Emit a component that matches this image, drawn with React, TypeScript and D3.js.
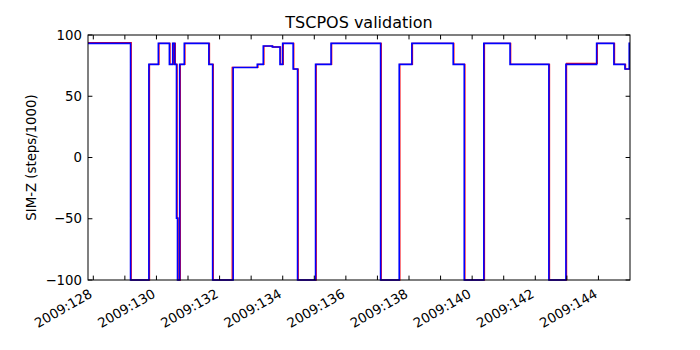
import React from "react";
import * as d3 from "d3";

const W = 700;
const H = 350;
const M = { left: 88, right: 630, top: 35, bottom: 280 };

const xDomain: [number, number] = [127.832, 145.0];
const yDomain: [number, number] = [-100, 100];
const yTicks = [-100, -50, 0, 50, 100];
const xTickDays = d3.range(128, 145);
const xLabelDays = [128, 130, 132, 134, 136, 138, 140, 142, 144];
const xLabelYear = "2009";

// step-after series: [day of year, SIM-Z steps/1000]
const blueTimes = [127.832, 129.18, 129.76, 130.06, 130.41, 130.515, 130.578, 130.635, 130.667, 130.736, 130.882, 131.66, 131.78, 132.43, 133.194, 133.384, 133.669, 133.913, 133.998, 134.33, 134.47, 135.04, 135.53, 137.1, 137.69, 138.09, 139.4, 139.75, 140.37, 141.2, 142.43, 142.97, 143.943, 144.49, 144.839, 144.975, 145.0];
const blueValues = [93.2, -100, 76, 93.2, 76, 93.2, 76, -49.5, -100, 76, 93.2, 76, -100, 73.5, 76, 91, 90.2, 76, 93.2, 72.2, -100, 76, 93.2, -100, 76, 93.2, 76, -100, 93.2, 76, -100, 76, 93.2, 76, 72.2, 93.2, 93.2];

const redTimes = [127.832, 129.2, 129.78, 130.08, 130.43, 130.535, 130.598, 130.655, 130.687, 130.756, 130.902, 131.68, 131.8, 132.4, 133.214, 133.404, 133.689, 133.933, 134.018, 134.35, 134.49, 135.06, 135.55, 137.12, 137.71, 138.11, 139.42, 139.77, 140.39, 141.22, 142.45, 142.99, 143.963, 144.51, 144.859, 144.99, 145.0];
const redValues = [93.8, -100, 76, 93.2, 76, 93.2, 76, -49.5, -100, 76, 93.2, 76, -100, 73.5, 76, 91, 90.2, 76, 93.2, 72.2, -100, 76, 93.2, -100, 76, 93.2, 76, -100, 93.2, 76, -100, 76.8, 93.2, 76, 72.2, 93.2, 93.2];

const FONT = "'DejaVu Sans', sans-serif";

export default function App() {
  const x = d3.scaleLinear().domain(xDomain).range([M.left, M.right]);
  const y = d3.scaleLinear().domain(yDomain).range([M.bottom, M.top]);

  const line = d3
    .line<[number, number]>()
    .x((d) => x(d[0]))
    .y((d) => y(d[1]))
    .curve(d3.curveStepAfter);

  const blue = blueTimes.map((t, i) => [t, blueValues[i]] as [number, number]);
  const red = redTimes.map((t, i) => [t, redValues[i]] as [number, number]);

  const tickLen = 4.4;

  return (
    <svg
      width={W}
      height={H}
      style={{ position: "absolute", left: 0, top: 0, background: "#fff" }}
      fontFamily={FONT}
    >
      <rect x={0} y={0} width={W} height={H} fill="#fff" />
      <defs>
        <clipPath id="plot">
          <rect x={M.left} y={M.top - 2} width={M.right - M.left} height={M.bottom - M.top + 4} />
        </clipPath>
      </defs>
      <g clipPath="url(#plot)">
        <path d={line(red) || ""} fill="none" stroke="#ff0000" strokeWidth={1.3} />
        <path d={line(blue) || ""} fill="none" stroke="#0000ff" strokeWidth={1.6} />
      </g>
      <rect
        x={M.left}
        y={M.top}
        width={M.right - M.left}
        height={M.bottom - M.top}
        fill="none"
        stroke="#000"
        strokeWidth={1}
      />
      {/* x ticks */}
      {xTickDays.map((d) => (
        <g key={"xt" + d}>
          <line x1={x(d)} x2={x(d)} y1={M.bottom} y2={M.bottom - tickLen} stroke="#000" />
          <line x1={x(d)} x2={x(d)} y1={M.top} y2={M.top + tickLen} stroke="#000" />
        </g>
      ))}
      {xLabelDays.map((d) => (
        <text
          key={"xl" + d}
          transform={`translate(${x(d) - 5},${M.bottom + 8}) rotate(-30)`}
          textAnchor="end"
          dy="0.73em"
          fontSize={13.3}
          fill="#000"
        >
          {`${xLabelYear}:${d}`}
        </text>
      ))}
      {/* y ticks */}
      {yTicks.map((v) => (
        <g key={"yt" + v}>
          <line x1={M.left} x2={M.left + tickLen} y1={y(v)} y2={y(v)} stroke="#000" />
          <line x1={M.right} x2={M.right - tickLen} y1={y(v)} y2={y(v)} stroke="#000" />
          <text
            x={M.left - 6}
            y={y(v)}
            dy="0.35em"
            textAnchor="end"
            fontSize={13.3}
            fill="#000"
          >
            {v < 0 ? "\u2212" + Math.abs(v) : String(v)}
          </text>
        </g>
      ))}
      <text
        transform={`translate(36,${(M.top + M.bottom) / 2}) rotate(-90)`}
        textAnchor="middle"
        fontSize={13.3}
        fill="#000"
      >
        SIM-Z (steps/1000)
      </text>
      <text
        x={(M.left + M.right) / 2}
        y={M.top - 7}
        textAnchor="middle"
        fontSize={16}
        fill="#000"
      >
        TSCPOS validation
      </text>
    </svg>
  );
}
